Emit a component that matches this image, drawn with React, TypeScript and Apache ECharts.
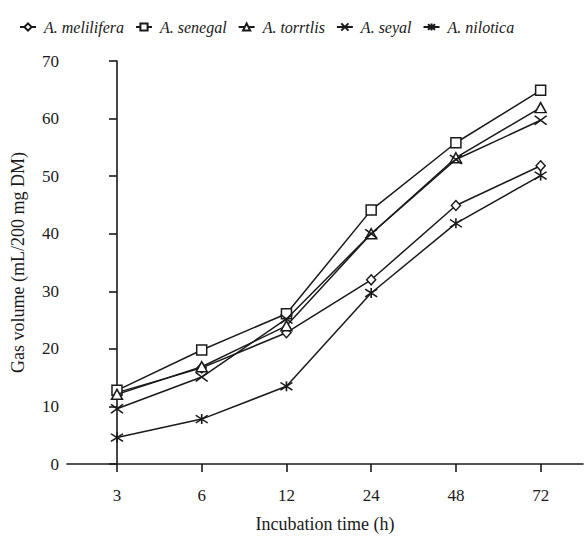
import React, { useEffect, useRef } from "react";
import * as echarts from "echarts";

const categories = ["3", "6", "12", "24", "48", "72"];
const seriesNames = ["A. melilifera", "A. senegal", "A. torrtlis", "A. seyal", "A. nilotica"];
const melilifera = [12.4, 16.7, 22.8, 32.0, 44.9, 51.8];
const senegal = [12.8, 19.8, 26.1, 44.1, 55.8, 64.9];
const torrtlis = [12.1, 16.9, 24.0, 40.0, 53.2, 61.9];
const seyal = [9.6, 15.1, 25.2, 40.0, 52.9, 59.7];
const nilotica = [4.6, 7.8, 13.5, 29.7, 41.8, 50.1];
const yTicks = [0, 10, 20, 30, 40, 50, 60, 70];

const seriesValues = [melilifera, senegal, torrtlis, seyal, nilotica];
const symbols = [
  "diamond",
  "rect",
  "triangle",
  "path://M0,0L10,10M10,0L0,10",
  "path://M0,0L10,10M10,0L0,10M5,-1.5L5,11.5",
];
const symbolSizes: any[] = [[9, 10], 10, [11, 10], [12, 9], [12, 10]];

const FONT = "'Liberation Serif', 'Times New Roman', Times, serif";
const INK = "#1a1a1a";

export default function App() {
  const ref = useRef<HTMLDivElement>(null);
  useEffect(() => {
    if (!ref.current) return;
    const chart = echarts.init(ref.current, undefined, { renderer: "svg" });
    const series = seriesNames.map((name, si) => ({
      name,
      type: "line",
      data: seriesValues[si].map((v, i) => [i, v]),
      symbol: symbols[si],
      symbolSize: symbolSizes[si],
      showAllSymbol: true,
      lineStyle: { color: INK, width: 1.5 },
      itemStyle: { color: "#ffffff", borderColor: INK, borderWidth: 1.5 },
      emphasis: { disabled: true },
      z: 2 + si,
    }));
    chart.setOption({
      animation: false,
      backgroundColor: "#ffffff",
      legend: {
        left: 14,
        top: 14,
        itemGap: 11,
        itemWidth: 16,
        itemHeight: 9,
        textStyle: {
          fontFamily: FONT,
          fontStyle: "italic",
          fontSize: 16,
          color: INK,
          padding: [0, 0, 0, 3],
        },
        data: seriesNames,
      },
      grid: { left: 67, right: 2, top: 61, bottom: 70, containLabel: false },
      xAxis: {
        type: "value",
        min: -0.59,
        max: 5.5,
        splitLine: { show: false },
        name: "Incubation time (h)",
        nameLocation: "middle",
        nameGap: 51,
        nameTextStyle: { fontFamily: FONT, fontSize: 18, color: INK },
        axisLine: { show: true, lineStyle: { color: INK, width: 1.6 } },
        axisTick: {
          show: true,
          inside: false,
          length: 8,
          customValues: categories.map((_, i) => i),
          lineStyle: { color: INK, width: 1.6 },
        },
        axisLabel: {
          customValues: categories.map((_, i) => i),
          formatter: (v: number) => categories[Math.round(v)] ?? "",
          fontFamily: FONT,
          fontSize: 17,
          color: INK,
          margin: 23,
        },
      },
      yAxis: {
        type: "value",
        min: 0,
        max: 70,
        interval: 10,
        offset: -8,
        splitLine: { show: false },
        name: "Gas volume (mL/200 mg DM)",
        nameLocation: "middle",
        nameGap: 48,
        nameTextStyle: { fontFamily: FONT, fontSize: 18, color: INK },
        axisLine: { show: true, lineStyle: { color: INK, width: 1.6 } },
        axisTick: { show: true, inside: false, length: 8, lineStyle: { color: INK, width: 1.6 } },
        axisLabel: {
          fontFamily: FONT,
          fontSize: 17,
          color: INK,
          margin: 16,
          formatter: (v: number) => (yTicks.includes(v) ? String(v) : ""),
        },
      },
      series,
    });
    return () => chart.dispose();
  }, []);
  return <div ref={ref} style={{ width: 585, height: 538, position: "absolute", left: 0, top: 0 }} />;
}
